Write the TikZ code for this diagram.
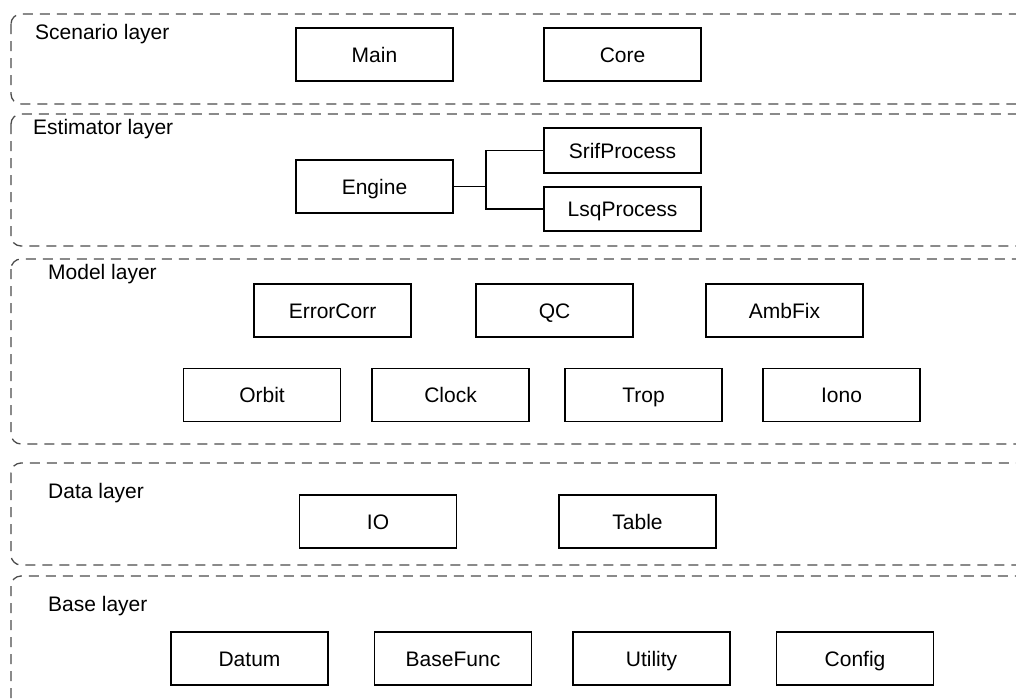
\documentclass[tikz,border=0pt]{standalone}
\usepackage{fontspec}
\setmainfont{Liberation Sans}
\begin{document}
\begin{tikzpicture}[x=1pt,y=-1pt,
  layer/.style={draw=black!70, line width=1.3pt, dash pattern=on 10pt off 7pt, rounded corners=10pt},
  layerlabel/.style={anchor=west, inner sep=0pt, font=\fontsize{21}{25}\selectfont},
  mod/.style={draw=black, line width=1.3pt, minimum width=157pt, minimum height=53pt, inner sep=0pt,
    text height=17pt, text depth=2pt, font=\fontsize{21}{25}\selectfont},
  link/.style={draw=black, line width=1.3pt}]
\useasboundingbox (0,0) rectangle (1016,699);
\clip (0,0) rectangle (1016,699);
% layers
\draw[layer] (11,14) rectangle (1040,104);
\draw[layer] (11,114) rectangle (1040,246);
\draw[layer] (11,259) rectangle (1040,444);
\draw[layer] (11,463) rectangle (1040,565);
\draw[layer] (11,576) rectangle (1040,720);
% labels
\node[layerlabel] (lscen) at (35,34) {Scenario layer};
\node[layerlabel] (lest) at (33,129) {Estimator layer};
\node[layerlabel] (lmod) at (48,274) {Model layer};
\node[layerlabel] (ldata) at (48,493) {Data layer};
\node[layerlabel] (lbase) at (48,606) {Base layer};
% scenario
\node[mod] (main) at (374.5,54.5) {Main};
\node[mod] (core) at (622.5,54.5) {Core};
% estimator
\node[mod] (engine) at (374.5,186.5) {Engine};
\node[mod, minimum height=45pt] (srif) at (622.5,150.5) {SrifProcess};
\node[mod, minimum height=44pt] (lsq) at (622.5,209) {LsqProcess};
\coordinate (br) at (486,186.5);
\draw[link] (engine.east) -- (br);
\draw[link] (srif.west) -| (br) |- (lsq.west);
% model
\node[mod] (err) at (332.5,310.5) {ErrorCorr};
\node[mod] (qc) at (554.5,310.5) {QC};
\node[mod] (amb) at (784.5,310.5) {AmbFix};
\node[mod] (orbit) at (262,395) {Orbit};
\node[mod] (clock) at (450.5,395) {Clock};
\node[mod] (trop) at (643.5,395) {Trop};
\node[mod] (iono) at (841.5,395) {Iono};
% data
\node[mod] (io) at (378,521.5) {IO};
\node[mod] (table) at (637.5,521.5) {Table};
% base
\node[mod] (datum) at (249.5,658.5) {Datum};
\node[mod] (basefunc) at (453,658.5) {BaseFunc};
\node[mod] (utility) at (651.5,658.5) {Utility};
\node[mod] (config) at (855,658.5) {Config};
\end{tikzpicture}
\end{document}
